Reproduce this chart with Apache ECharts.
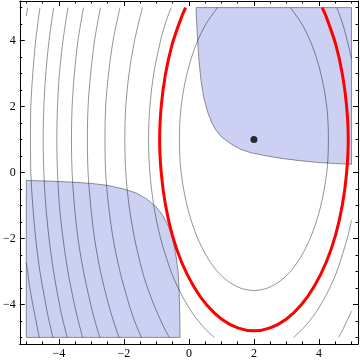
<!DOCTYPE html>
<html>
<head>
<meta charset="utf-8">
<script src="https://cdn.jsdelivr.net/npm/echarts@6/dist/echarts.min.js"></script>
<style>
  html, body { margin: 0; padding: 0; background: #fff; }
  #chart { width: 360px; height: 360px; }
</style>
</head>
<body>
<div id="chart"></div>
<script>
  // tick positions
  const majorTicks = [-4, -2, 0, 2, 4];
  const minorTicks = [-5, -4.5, -3.5, -3, -2.5, -1.5, -1, -0.5, 0.5, 1, 1.5, 2.5, 3, 3.5, 4.5, 5];

  // minimum point
  const minPoint = [[2, 1]];

  // shaded regions
  const regionUpper = [[0.22, 5], [0.24, 4.5], [0.27, 4.0], [0.31, 3.4], [0.37, 2.8], [0.45, 2.3],
    [0.57, 1.85], [0.70, 1.52], [0.82, 1.30], [1.0, 1.08], [1.32, 0.85], [1.6, 0.70], [1.9, 0.60],
    [2.4, 0.50], [2.9, 0.42], [3.4, 0.36], [3.9, 0.31], [4.5, 0.27], [5, 0.25], [5, 5]];
  const regionLower = [[-5, -0.24], [-4.3, -0.26], [-3.6, -0.29], [-3.0, -0.33], [-2.5, -0.39],
    [-2.0, -0.50], [-1.6, -0.63], [-1.3, -0.80], [-1.0, -1.05], [-0.8, -1.30], [-0.62, -1.65],
    [-0.5, -2.0], [-0.4, -2.5], [-0.33, -3.0], [-0.30, -3.6], [-0.28, -4.3], [-0.27, -5], [-5, -5]];

  // red contour
  const redContour = [[4.10, 5], [4.22, 4.73], [4.51, 3.90], [4.72, 2.98], [4.85, 2.01], [4.90, 1],
    [4.85, -0.01], [4.72, -0.98], [4.51, -1.90], [4.22, -2.73], [3.86, -3.44], [3.45, -4.02],
    [2.99, -4.45], [2.50, -4.71], [2, -4.80], [1.50, -4.71], [1.01, -4.45], [0.55, -4.02],
    [0.14, -3.44], [-0.22, -2.73], [-0.51, -1.90], [-0.72, -0.98], [-0.85, -0.01], [-0.90, 1],
    [-0.85, 2.01], [-0.72, 2.98], [-0.51, 3.90], [-0.22, 4.73], [-0.10, 5]];

  // grey contours
  const contour1 = [[3.12, 5], [3.47, 4.51], [3.75, 3.95], [3.98, 3.29], [4.15, 2.57], [4.26, 1.80],
    [4.29, 1], [4.26, 0.20], [4.15, -0.57], [3.98, -1.29], [3.75, -1.95], [3.47, -2.51], [3.15, -2.97],
    [2.78, -3.31], [2.40, -3.51], [2, -3.58], [1.60, -3.51], [1.22, -3.31], [0.85, -2.97], [0.53, -2.51],
    [0.25, -1.95], [0.02, -1.29], [-0.15, -0.57], [-0.26, 0.20], [-0.29, 1], [-0.26, 1.80], [-0.15, 2.57],
    [0.02, 3.29], [0.25, 3.95], [0.53, 4.51], [0.88, 5]];
  const contour2Left = [[-0.55, 5], [-0.73, 4.5], [-0.87, 4], [-1.08, 3], [-1.20, 2], [-1.24, 1],
    [-1.20, 0], [-1.08, -1], [-0.87, -2], [-0.55, -3], [-0.33, -3.5], [-0.06, -4], [0.10, -4.25],
    [0.29, -4.5], [0.51, -4.75], [0.78, -5]];
  const contour2TopRight = [[4.55, 5], [4.73, 4.5], [4.87, 4], [5, 3.45]];
  const contour2BottomRight = [[5, -1.45], [4.87, -2], [4.55, -3], [4.33, -3.5], [4.06, -4], [3.90, -4.25],
    [3.71, -4.5], [3.49, -4.75], [3.22, -5]];
  const contour3Left = [[-1.43, 5], [-1.67, 4], [-1.84, 3], [-1.94, 2], [-1.97, 1], [-1.94, 0],
    [-1.84, -1], [-1.67, -2], [-1.43, -3], [-1.27, -3.5], [-1.08, -4], [-0.86, -4.5], [-0.74, -4.75], [-0.60, -5]];
  const contour3Right = [[5, -4.2], [4.86, -4.5], [4.74, -4.75], [4.60, -5]];
  const contour4 = [[-2.12, 5], [-2.33, 4], [-2.47, 3], [-2.56, 2], [-2.58, 1], [-2.56, 0],
    [-2.47, -1], [-2.33, -2], [-2.12, -3], [-1.84, -4], [-1.67, -4.5], [-1.46, -5]];
  const contour5 = [[-2.72, 5], [-2.90, 4], [-3.02, 3], [-3.10, 2], [-3.12, 1], [-3.10, 0],
    [-3.02, -1], [-2.90, -2], [-2.72, -3], [-2.47, -4], [-2.32, -4.5], [-2.15, -5]];
  const contour6 = [[-3.24, 5], [-3.41, 4], [-3.52, 3], [-3.59, 2], [-3.61, 1], [-3.59, 0],
    [-3.52, -1], [-3.41, -2], [-3.24, -3], [-3.02, -4], [-2.89, -4.5], [-2.74, -5]];
  const contour7 = [[-3.72, 5], [-3.87, 4], [-3.98, 3], [-4.04, 2], [-4.06, 1], [-4.04, 0],
    [-3.98, -1], [-3.87, -2], [-3.72, -3], [-3.52, -4], [-3.40, -4.5], [-3.27, -5]];
  const contour8 = [[-4.16, 5], [-4.30, 4], [-4.40, 3], [-4.46, 2], [-4.48, 1], [-4.46, 0],
    [-4.40, -1], [-4.30, -2], [-4.16, -3], [-3.98, -4], [-3.87, -4.5], [-3.74, -5]];
  const contour9 = [[-4.58, 5], [-4.71, 4], [-4.80, 3], [-4.86, 2], [-4.87, 1], [-4.86, 0],
    [-4.80, -1], [-4.71, -2], [-4.58, -3], [-4.40, -4], [-4.30, -4.5], [-4.18, -5]];
  const contour10Top = [[-4.96, 5], [-5, 4.74]];
  const contour10Bottom = [[-5, -2.74], [-4.96, -3], [-4.89, -3.5], [-4.80, -4], [-4.70, -4.5], [-4.60, -5]];

  const greyContours = [contour1, contour2Left, contour2TopRight, contour2BottomRight, contour3Left,
    contour3Right, contour4, contour5, contour6, contour7, contour8, contour9, contour10Top, contour10Bottom];

  const fmt = v => (v < 0 ? '\u2212' + Math.abs(v) : String(v));

  function makeAxis(pos, ticks, len, label, line) {
    return {
      type: 'value',
      position: pos,
      min: -5.2,
      max: 5.2,
      axisLine: {show: line, onZero: false, lineStyle: {color: '#000', width: 1}},
      axisTick: {show: true, inside: true, length: len, customValues: ticks, lineStyle: {color: '#000', width: 1}},
      axisLabel: {
        show: label,
        customValues: majorTicks,
        formatter: fmt,
        margin: 4,
        color: '#000',
        fontFamily: 'Liberation Serif',
        fontSize: 12
      },
      splitLine: {show: false}
    }
  }

  const chart = echarts.init(document.getElementById('chart'));

  const series = []

  function regionSeries(pts) {
    return {
      type: 'custom',
      data: [[0]],
      z: 1,
      silent: true,
      renderItem: function (params, api) {
        return {
          type: 'polygon',
          shape: {points: pts.map(p => api.coord(p))},
          style: {fill: '#ccd0f2', stroke: 'rgba(0,0,0,0.4)', lineWidth: 1}
        }
      }
    }
  }

  series.push(regionSeries(regionUpper))
  series.push(regionSeries(regionLower))

  greyContours.forEach(function (c) {
    series.push({
      type: 'line',
      data: c,
      smooth: 0.3,
      showSymbol: false,
      silent: true,
      z: 2,
      lineStyle: {color: 'rgba(0,0,0,0.42)', width: 1}
    })
  })

  series.push({
    type: 'line',
    data: redContour,
    smooth: 0.3,
    showSymbol: false,
    silent: true,
    z: 3,
    lineStyle: {color: '#ff0000', width: 3}
  })

  series.push({
    type: 'scatter',
    data: minPoint,
    symbolSize: 7,
    z: 4,
    itemStyle: {color: '#000'}
  })

  chart.setOption({
    animation: false,
    grid: {left: 13, right: 2, top: 1, bottom: 15},
    xAxis: [
      makeAxis('bottom', majorTicks, 5, true, true),
      makeAxis('bottom', minorTicks, 2.5, false, false),
      makeAxis('top', majorTicks, 5, false, true),
      makeAxis('top', minorTicks, 2.5, false, false)
    ],
    yAxis: [
      makeAxis('left', majorTicks, 5, true, true),
      makeAxis('left', minorTicks, 2.5, false, false),
      makeAxis('right', majorTicks, 5, false, true),
      makeAxis('right', minorTicks, 2.5, false, false)
    ],
    series: series
  });
</script>
</body>
</html>
